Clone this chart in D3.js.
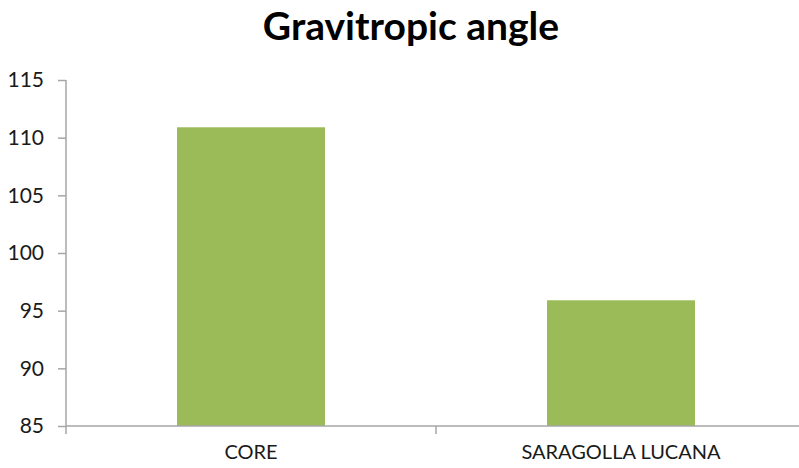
<!DOCTYPE html>
<html>
<head>
<meta charset="utf-8">
<script src="https://cdn.jsdelivr.net/npm/d3@7"></script>
<style>
  html, body { margin: 0; padding: 0; background: #fff; overflow: hidden; }
</style>
</head>
<body>
<script>
// data
const categories = ["CORE", "SARAGOLLA LUCANA"];
const angles = [110.9, 95.9];
const yTicks = [85, 90, 95, 100, 105, 110, 115];
const title = "Gravitropic angle";

const imgW = 799, imgH = 468,
      margin = {top: 80, left: 66, bottom: 42},
      plotW = 740,
      plotH = imgH - margin.top - margin.bottom,
      font = "Lato, sans-serif",
      axisColor = "#a6a6a6";

const svg = d3.select("body").append("svg")
    .attr("width", imgW)
    .attr("height", imgH)
    .style("background-color", "white");

const x = d3.scaleBand()
    .domain(categories)
    .range([0, plotW])
    .paddingInner(0.6)
    .paddingOuter(0.3);

const y = d3.scaleLinear()
    .domain([85, 115])
    .range([plotH, 0]);

const g = svg.append("g")
    .attr("transform", "translate(" + margin.left + "," + margin.top + ")");

// bars
g.selectAll("rect.bar")
    .data(categories)
    .enter().append("rect")
    .attr("class", "bar")
    .attr("x", d => x(d))
    .attr("width", x.bandwidth())
    .attr("y", (d, i) => y(angles[i]))
    .attr("height", (d, i) => plotH - y(angles[i]))
    .attr("fill", "#9bbb59");

// y axis
const yAxis = g.append("g")
    .call(d3.axisLeft(y).tickValues(yTicks).tickSize(8).tickPadding(14).tickFormat(d3.format("d")));
yAxis.select(".domain").attr("stroke", axisColor).attr("stroke-width", 1.5)
    .attr("d", "M0,0V" + plotH);
yAxis.selectAll(".tick line").attr("stroke", axisColor).attr("stroke-width", 1.5);
yAxis.selectAll(".tick text")
    .attr("fill", "#1a1a1a")
    .style("font-family", font)
    .style("font-size", "21px");

// x axis: separator ticks between categories, labels at centres
const xAxisG = g.append("g").attr("transform", "translate(0," + plotH + ")");
xAxisG.append("line")
    .attr("x1", 0).attr("x2", plotW)
    .attr("stroke", axisColor).attr("stroke-width", 1.5);
xAxisG.selectAll("line.sep")
    .data([0, plotW / 2, plotW])
    .enter().append("line")
    .attr("class", "sep")
    .attr("x1", d => d).attr("x2", d => d)
    .attr("y1", 0).attr("y2", 8)
    .attr("stroke", axisColor).attr("stroke-width", 1.5);
xAxisG.selectAll("text")
    .data(categories)
    .enter().append("text")
    .attr("x", d => x(d) + x.bandwidth() / 2)
    .attr("y", 33)
    .attr("text-anchor", "middle")
    .attr("fill", "#1a1a1a")
    .style("font-family", font)
    .style("font-size", "20px")
    .text(d => d);

// title
svg.append("text")
    .attr("x", 411)
    .attr("y", 40)
    .attr("text-anchor", "middle")
    .attr("fill", "#000")
    .style("font-family", font)
    .style("font-weight", "bold")
    .style("font-size", "39px")
    .text(title);
</script>
</body>
</html>
